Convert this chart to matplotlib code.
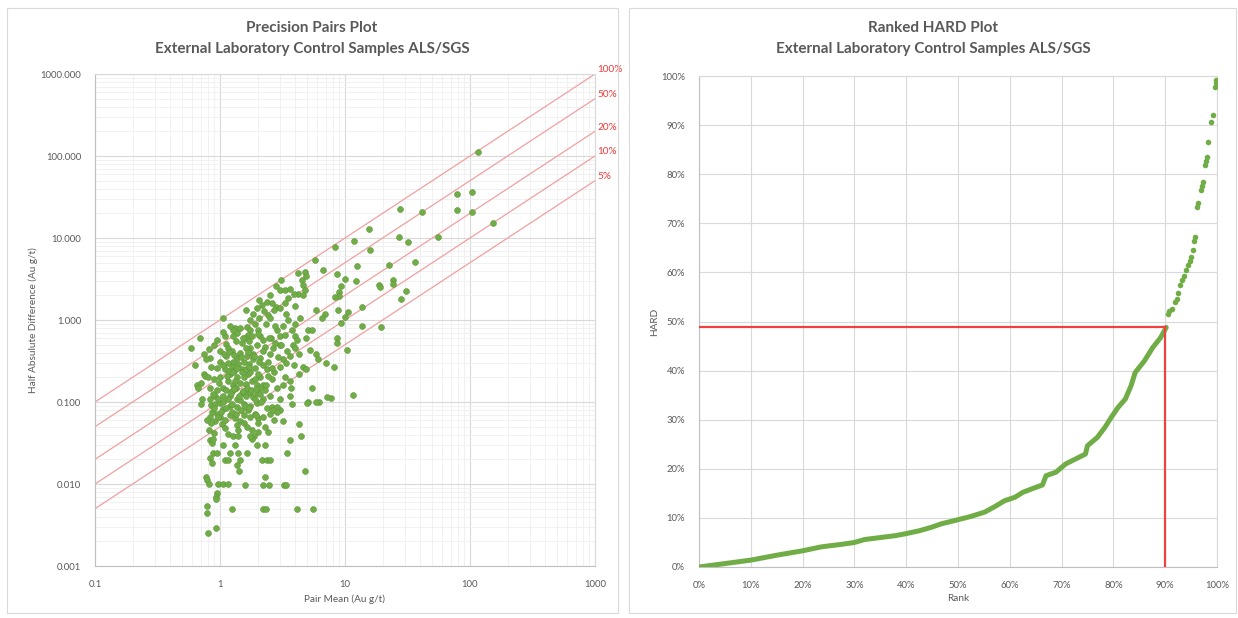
"""
Precision pairs plot and ranked HARD plot, ALS/SGS external lab checks.
"""

import matplotlib.pyplot as plt
from matplotlib.patches import Rectangle
from matplotlib.ticker import FixedLocator, FuncFormatter, NullFormatter, PercentFormatter

plt.rcParams["font.family"] = ["Lato", "DejaVu Sans"]

GREY_TXT = "#595959"
GREEN = "#70ad47"
GRID = "#d9d9d9"

# --- left panel: pair mean vs half absolute difference (Au g/t) ---------------
pair_mean = [
    116, 79, 104, 79, 104, 153, 27.5, 41, 15.6, 11.8, 8.3, 27, 32, 55, 15.8, 12.5,
    22.5, 36, 8.6, 10, 12.2, 9.3, 18.7, 19, 24, 24, 31, 9.0, 9.0, 8.3, 28, 13.7,
    8.8, 10.6, 9.3, 13.7, 19.4, 8.6, 8.6, 10.3, 11.6, 7.7, 6.2, 7.1, 8.1, 7.2,
    6.7, 6.9, 6.5, 10,
    5.8, 4.2, 4.8, 4.9, 4.5, 4.6, 4.8, 4.2, 3.9, 4.6, 3.1, 3.0, 3.3, 3.6, 3.5, 2.8,
    3.0, 2.7, 3.4, 5.9, 3.74, 5.1, 5.4, 3.0, 3.3, 3.98, 4.1, 4.9, 3.0, 3.86, 4.0,
    5.2, 4.3, 5.9, 6.1, 3.6, 3.2, 4.6, 4.9, 3.4, 3.0, 4.3, 3.6, 3.2, 3.7, 5.4, 3.0,
    3.6, 5.1, 5.9, 3.77, 5.0, 3.0, 3.2, 4.3, 4.45, 3.63, 3.43, 4.79, 3.25, 3.38,
    4.13, 5.55, 2.84,
    2.07, 2.36, 2.15, 1.97, 2.07, 1.61, 2.44, 2.5, 1.06, 1.74, 1.9, 1.32, 1.28,
    1.63, 1.74, 2.03, 1.36, 1.26, 1.69, 1.58, 1.79, 2.09, 2.22, 0.94, 0.69, 1.1,
    1.49, 1.11, 1.16, 0.82, 0.59, 2.75, 2.67, 1.97, 2.29, 1.74, 2.5, 2.09, 1.63,
    1.36, 1.11, 1.0, 1.28, 0.83, 0.63, 2.7, 2.36, 1.9, 1.69, 1.49, 1.36, 1.2, 1.1,
    1.0, 0.89, 0.74, 0.94, 2.09, 2.6, 2.22, 1.97, 1.79, 2.09, 1.63, 1.45, 1.28,
    1.06, 0.83, 0.65, 2.84, 1.74, 1.49, 1.97, 0.94, 0.92, 0.72, 0.83, 1.2, 1.36,
    2.5, 2.22,
    0.70, 0.85, 0.91, 1.0, 1.06, 1.2, 1.36, 1.55, 1.74, 1.97, 2.36, 2.6, 2.84,
    1.69, 0.83, 0.94, 1.0, 0.91, 1.03, 1.1, 1.2, 1.32, 1.45, 1.55, 1.36, 1.74,
    1.9, 2.03, 2.5, 2.67, 2.84, 1.63, 0.81, 1.79, 2.03, 1.86, 1.79, 2.42, 1.16,
    1.28, 1.39, 0.83, 0.86, 1.74, 1.06, 1.32, 1.98, 2.29, 0.88, 0.95, 1.2, 1.39,
    1.64, 1.1, 1.16, 1.45, 2.17, 2.38, 2.51, 0.83, 0.86, 1.37, 1.42, 0.77, 0.79,
    0.82, 0.96, 1.06, 1.16, 1.58, 2.29, 2.21, 2.47, 0.94, 0.93, 0.93, 0.79, 0.79,
    1.25, 2.21, 2.33, 0.93, 0.80,
    0.70, 0.67, 0.77, 0.76,
    1.05, 1.15, 1.25, 1.4, 1.55, 1.7, 1.85, 2.2, 2.4, 1.3, 1.55, 1.75, 2.0, 2.4,
    0.98, 1.15, 1.35, 1.6, 1.9, 2.3, 1.05, 1.25, 1.6, 1.85, 2.1, 1.45, 1.15, 0.88,
    0.8, 0.85, 1.25, 1.45, 1.6, 1.85, 2.2, 1.35, 1.05, 1.2, 1.45, 0.9, 1.0, 0.75,
    1.55, 1.25, 1.05, 2.2, 2.0, 1.4, 1.1, 0.9, 2.3, 2.7, 3.3, 2.9, 2.55, 2.35,
    1.85, 2.25, 2.6, 2.5, 2.8, 3.3, 4.0, 4.4, 4.0, 3.5, 3.2,
    1.12, 1.22, 1.3, 1.42, 1.52, 1.65, 1.78, 1.95, 1.18, 1.28, 1.38, 1.5, 1.62,
    1.72, 1.08, 1.18, 1.3, 1.48, 1.68, 1.88, 2.05, 0.96, 1.02, 1.12, 1.24, 1.34,
    1.46, 1.58, 1.72, 1.9, 2.12, 2.35, 2.6, 0.86, 0.9, 0.97, 0.78, 0.84, 0.88,
    1.14, 1.32, 1.52, 1.7, 2.0, 2.45, 2.75, 3.1, 3.45, 3.9, 1.95,
]
half_diff = [
    112, 34, 36, 22, 21, 15.2, 22.6, 21, 12.9, 9.2, 7.8, 10.3, 8.9, 10.3, 7.1, 4.6,
    4.7, 5.1, 3.6, 3.2, 3.0, 2.6, 2.7, 2.5, 3.1, 2.75, 2.26, 2.2, 1.96, 1.9, 1.8,
    1.44, 1.32, 1.25, 0.92, 0.85, 0.82, 0.60, 0.52, 0.43, 0.122, 0.112, 0.10, 0.30,
    0.27, 0.116, 4.1, 1.2, 1.05, 1.1,
    5.4, 3.7, 3.9, 3.4, 3.1, 2.7, 2.3, 2.1, 2.1, 2.0, 3.1, 2.3, 2.3, 2.4, 1.84,
    1.46, 1.39, 1.32, 1.2, 1.32, 0.755, 0.755, 0.755, 0.63, 0.66, 0.63, 0.57, 0.60,
    0.50, 0.50, 0.45, 0.43, 0.39, 0.38, 0.33, 0.36, 0.33, 0.27, 0.25, 0.30, 0.27,
    0.22, 0.18, 0.16, 0.15, 0.15, 0.11, 0.12, 0.10, 0.10, 0.095, 0.097, 0.08,
    0.059, 0.054, 0.0385, 0.034, 0.024, 0.0145, 0.0098, 0.0098, 0.005, 0.005, 0.755,
    1.75, 1.67, 1.52, 1.39, 1.05, 1.32, 1.15, 1.05, 1.05, 1.0, 0.9, 0.79, 0.755,
    0.83, 0.755, 0.755, 0.69, 0.63, 0.66, 0.60, 0.63, 0.63, 0.57, 0.57, 0.60, 0.64,
    0.52, 0.51, 0.45, 0.44, 0.46, 0.52, 0.45, 0.49, 0.47, 0.45, 0.38, 0.34, 0.36,
    0.34, 0.36, 0.31, 0.31, 0.34, 0.28, 0.23, 0.25, 0.26, 0.22, 0.25, 0.20, 0.22,
    0.25, 0.20, 0.19, 0.22, 0.26, 0.20, 0.19, 0.16, 0.16, 0.18, 0.15, 0.14, 0.17,
    0.16, 0.15, 0.15, 0.16, 0.15, 0.13, 0.13, 0.13, 0.14, 0.12, 0.11, 0.11, 0.12,
    0.11, 0.12, 0.11,
    0.095, 0.093, 0.095, 0.097, 0.10, 0.09, 0.088, 0.095, 0.09, 0.098, 0.085, 0.088,
    0.086, 0.079, 0.066, 0.072, 0.066, 0.058, 0.054, 0.06, 0.069, 0.063, 0.059,
    0.055, 0.052, 0.066, 0.072, 0.063, 0.072, 0.079, 0.075, 0.050, 0.046, 0.045,
    0.043, 0.038, 0.035, 0.043, 0.041, 0.038, 0.038, 0.034, 0.032, 0.039, 0.030,
    0.030, 0.030, 0.030, 0.024, 0.024, 0.024, 0.024, 0.024, 0.0196, 0.0196, 0.0196,
    0.0196, 0.0196, 0.0196, 0.021, 0.018, 0.017, 0.0145, 0.0122, 0.0112, 0.010,
    0.010, 0.010, 0.010, 0.0098, 0.0122, 0.0098, 0.0098, 0.0078, 0.0070, 0.0065,
    0.0054, 0.0044, 0.005, 0.005, 0.005, 0.0029, 0.0025,
    0.17, 0.15, 0.33, 0.21,
    0.28, 0.3, 0.27, 0.29, 0.31, 0.29, 0.33, 0.28, 0.31, 0.24, 0.2, 0.23, 0.22,
    0.21, 0.17, 0.18, 0.15, 0.165, 0.19, 0.14, 0.12, 0.135, 0.12, 0.115, 0.125,
    0.105, 0.108, 0.125, 0.2, 0.27, 0.42, 0.4, 0.46, 0.39, 0.42, 0.55, 0.72, 0.85,
    0.8, 0.5, 0.42, 0.38, 0.07, 0.075, 0.082, 0.065, 0.055, 0.045, 0.048, 0.042,
    0.05, 0.061, 0.2, 0.35, 0.6, 0.9, 1.2, 1.3, 1.6, 2.0, 2.6, 1.6, 1.5, 1.05, 0.9,
    1.0, 0.85,
    0.14, 0.13, 0.145, 0.12, 0.135, 0.15, 0.14, 0.145, 0.24, 0.23, 0.26, 0.235,
    0.25, 0.27, 0.38, 0.41, 0.37, 0.35, 0.41, 0.36, 0.31, 0.065, 0.075, 0.085,
    0.095, 0.072, 0.08, 0.09, 0.085, 0.11, 0.1, 0.16, 0.26, 0.075, 0.085, 0.11,
    0.06, 0.055, 0.035, 0.21, 0.18, 0.6, 0.55, 0.68, 0.6, 0.85, 0.5, 0.42, 0.28,
    0.07,
]

guide_pct = [1.0, 0.5, 0.2, 0.1, 0.05]
guide_labels = ["100%", "50%", "20%", "10%", "5%"]
guide_x = [0.1, 1000]

# --- right panel: ranked HARD (percent) ----------------------------------------
rank_dense = [0, 5, 10, 15, 20, 23.6, 27.4, 30, 32, 35, 38, 40, 42.6, 44.9, 46.8,
              49.5, 52.5, 55.2, 57.1, 59, 61, 62.5, 64.7, 66.3, 67, 68.9, 70.8,
              72.7, 74.6, 75, 76.9, 78.4, 79.6, 80.9, 82.3, 83.4, 84.2, 86, 87.6,
              89.1, 90.2]
hard_dense = [0, 0.7, 1.4, 2.4, 3.3, 4.1, 4.6, 5.0, 5.6, 6.0, 6.4, 6.8, 7.4, 8.1,
              8.8, 9.5, 10.3, 11.2, 12.3, 13.5, 14.2, 15.2, 16.1, 16.7, 18.6, 19.3,
              21.0, 22.0, 23.0, 24.7, 26.4, 28.5, 30.5, 32.5, 34.2, 36.9, 39.6,
              42.0, 44.7, 46.7, 48.8]
rank_tail = [90.5, 90.8, 91.3, 91.8, 92.2, 92.5, 92.9, 93.3, 93.7, 94.1, 94.4,
             94.7, 95.0, 95.3, 95.6, 95.8, 96.1, 96.3, 96.9, 97.1, 97.3, 97.6,
             97.8, 98.0, 98.2, 98.8, 99.2, 99.6, 99.8, 99.9]
hard_tail = [51.5, 52.2, 52.6, 53.9, 54.5, 55.8, 57.5, 58.5, 59.2, 60.5, 61.5,
             62.3, 63.2, 64.5, 66.3, 67.3, 73.4, 74.1, 76.8, 77.5, 78.5, 81.9,
             82.7, 83.5, 86.6, 90.7, 92.1, 97.8, 98.5, 99.1]
p90_rank = 90.0
p90_hard = 48.8


def style_axes(ax):
    ax.set_axisbelow(True)
    for side in ("left", "bottom"):
        ax.spines[side].set_color("#bfbfbf")
    for side in ("top", "right"):
        ax.spines[side].set_color(GRID)
    ax.tick_params(which="both", length=0, labelsize=6.8, labelcolor=GREY_TXT)


fig = plt.figure(figsize=(12.38, 6.18), dpi=100)

# panel frames
for x0, x1 in [(7, 618), (629, 1236)]:
    fig.add_artist(Rectangle((x0 / 1238, 5 / 618), (x1 - x0) / 1238, 605 / 618,
                             transform=fig.transFigure, fill=False,
                             edgecolor=GRID, lw=0.8))

# ---------------------------------------------------------------- left
ax1 = fig.add_axes([95 / 1238, 52 / 618, 500 / 1238, 492 / 618])
ax1.set_xscale("log")
ax1.set_yscale("log")
ax1.set_xlim(0.1, 1000)
ax1.set_ylim(0.001, 1000)
ax1.xaxis.set_major_locator(FixedLocator([0.1, 1, 10, 100, 1000]))
ax1.yaxis.set_major_locator(FixedLocator([0.001, 0.01, 0.1, 1, 10, 100, 1000]))
minor_x = [m * 10.0 ** e for e in range(-1, 3) for m in range(2, 10)]
minor_y = [m * 10.0 ** e for e in range(-3, 3) for m in range(2, 10)]
ax1.xaxis.set_minor_locator(FixedLocator(minor_x))
ax1.yaxis.set_minor_locator(FixedLocator(minor_y))
ax1.xaxis.set_minor_formatter(NullFormatter())
ax1.yaxis.set_minor_formatter(NullFormatter())
ax1.xaxis.set_major_formatter(FuncFormatter(lambda v, _: f"{v:g}"))
ax1.yaxis.set_major_formatter(FuncFormatter(lambda v, _: f"{v:.3f}"))
ax1.grid(which="major", color=GRID, lw=0.8)
ax1.grid(which="minor", color="#efefef", lw=0.6)
style_axes(ax1)
ax1.tick_params(axis="y", pad=10)
ax1.tick_params(axis="x", pad=10)

for pct, lab in zip(guide_pct, guide_labels):
    ax1.plot(guide_x, [pct * x for x in guide_x], color="#f0a0a0", lw=0.9, zorder=2)
    ax1.annotate(lab, (guide_x[-1], pct * guide_x[-1]), xytext=(2, 4),
                 textcoords="offset pixels", ha="left", va="center",
                 fontsize=7.2, color="#f03a3a", annotation_clip=False)

ax1.scatter(pair_mean, half_diff, s=18, facecolor=GREEN, edgecolor="#5e9639",
            lw=0.4, zorder=3)

ax1.set_xlabel("Pair Mean (Au g/t)", fontsize=7.2, color=GREY_TXT)
ax1.set_ylabel("Half Absulute Difference (Au g/t)", fontsize=7.2, color=GREY_TXT)
ax1.xaxis.set_label_coords(0.5, -0.067)
ax1.xaxis.label.set_va("center")
ax1.yaxis.set_label_coords(-0.124, 0.5)
ax1.yaxis.label.set_va("center")

fig.text(312 / 1238, 1 - 28 / 618, "Precision Pairs Plot", ha="center", va="center",
         fontsize=11, fontweight="bold", color=GREY_TXT)
fig.text(312 / 1238, 1 - 49 / 618, "External Laboratory Control Samples ALS/SGS",
         ha="center", va="center", fontsize=11, fontweight="bold", color=GREY_TXT)

# ---------------------------------------------------------------- right
ax2 = fig.add_axes([699 / 1238, 51 / 618, 518 / 1238, 491 / 618])
ax2.set_xlim(0, 100)
ax2.set_ylim(0, 100)
ticks = list(range(0, 101, 10))
ax2.xaxis.set_major_locator(FixedLocator(ticks))
ax2.yaxis.set_major_locator(FixedLocator(ticks))
ax2.xaxis.set_major_formatter(PercentFormatter(xmax=100, decimals=0))
ax2.yaxis.set_major_formatter(PercentFormatter(xmax=100, decimals=0))
ax2.grid(color=GRID, lw=0.8)
style_axes(ax2)
ax2.tick_params(axis="y", pad=10)
ax2.tick_params(axis="x", pad=10)

ax2.plot(rank_dense, hard_dense, color=GREEN, lw=3.6, solid_capstyle="round",
         solid_joinstyle="round", zorder=3)
ax2.scatter(rank_tail, hard_tail, s=16, color=GREEN, lw=0, zorder=3)
ax2.plot([0, p90_rank], [p90_hard, p90_hard], color="#f04040", lw=1.6, zorder=4)
ax2.plot([p90_rank, p90_rank], [0, p90_hard], color="#f04040", lw=1.6, zorder=4)

ax2.set_xlabel("Rank", fontsize=7.2, color=GREY_TXT)
ax2.set_ylabel("HARD", fontsize=7.2, color=GREY_TXT)
ax2.xaxis.set_label_coords(0.5, -0.065)
ax2.xaxis.label.set_va("center")
ax2.yaxis.set_label_coords(-0.085, 0.5)
ax2.yaxis.label.set_va("center")

fig.text(933 / 1238, 1 - 28 / 618, "Ranked HARD Plot", ha="center", va="center",
         fontsize=11, fontweight="bold", color=GREY_TXT)
fig.text(933 / 1238, 1 - 49 / 618, "External Laboratory Control Samples ALS/SGS",
         ha="center", va="center", fontsize=11, fontweight="bold", color=GREY_TXT)

fig.savefig("out.png", dpi=100)
